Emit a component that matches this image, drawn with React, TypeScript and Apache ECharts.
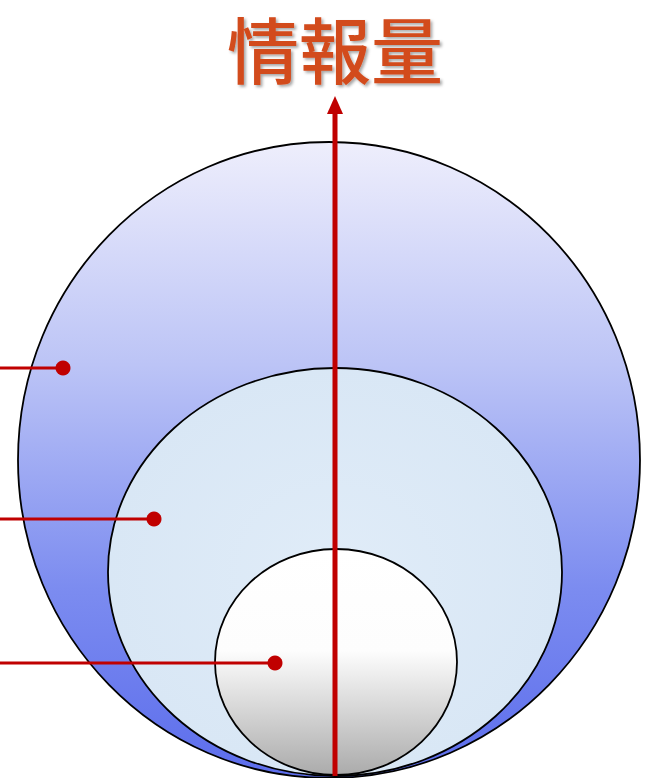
import React, { useEffect, useRef } from "react";
import * as echarts from "echarts";

const titleText = "情報量";
const layerNames = ["外層", "中層", "内層"];
const leaderLevels = [0, 1, 2];

export default function App() {
  const ref = useRef<HTMLDivElement>(null);
  useEffect(() => {
    document.body.style.margin = "0";
    const chart = echarts.init(ref.current!, null, { renderer: "svg" });
    const ellipses = [
      { cx: 329, cy: 460, rx: 311, ry: 318,
        fill: new echarts.graphic.LinearGradient(0, 0, 0, 1, [
          { offset: 0, color: "#eeeefc" },
          { offset: 0.35, color: "#bcc4f6" },
          { offset: 0.7, color: "#7c8cf0" },
          { offset: 1, color: "#5c6dec" },
        ]) },
      { cx: 335, cy: 572, rx: 227, ry: 204,
        fill: new echarts.graphic.RadialGradient(0.5, 0.5, 0.7, [
          { offset: 0, color: "#e0ecf8" },
          { offset: 1, color: "#d6e5f4" },
        ]) },
      { cx: 336, cy: 662, rx: 121, ry: 113,
        fill: new echarts.graphic.LinearGradient(0, 0, 0, 1, [
          { offset: 0, color: "#ffffff" },
          { offset: 0.45, color: "#fdfdfd" },
          { offset: 1, color: "#ababab" },
        ]) },
    ];
    const dots = [
      [63, 368],
      [154, 519],
      [275, 663],
    ];
    const graphics: any[] = [];
    ellipses.forEach((e, i) => {
      graphics.push({
        type: "ellipse",
        name: layerNames[i],
        shape: { cx: e.cx, cy: e.cy, rx: e.rx, ry: e.ry },
        style: { fill: e.fill, stroke: "#000", lineWidth: 1.8 },
        z: 1 + i,
      });
    });
    graphics.push({
      type: "line",
      shape: { x1: 335, y1: 776, x2: 335, y2: 112 },
      style: { stroke: "#c00000", lineWidth: 5 },
      z: 10,
    });
    graphics.push({
      type: "polygon",
      shape: { points: [[335, 96], [327, 114], [343, 114]] },
      style: { fill: "#c00000" },
      z: 10,
    });
    leaderLevels.forEach((i) => {
      const [x, y] = dots[i];
      graphics.push({
        type: "line",
        shape: { x1: 0, y1: y, x2: x, y2: y },
        style: { stroke: "#c00000", lineWidth: 3 },
        z: 11,
      });
      graphics.push({
        type: "circle",
        shape: { cx: x, cy: y, r: 7.5 },
        style: { fill: "#c00000" },
        z: 11,
      });
    });
    graphics.push({
      type: "text",
      x: 335,
      y: 46,
      style: {
        text: titleText,
        fill: "#d24b1d",
        font: '500 72px "Noto Sans CJK JP"',
        lineHeight: 72,
        align: "center",
        verticalAlign: "middle",
        textShadowColor: "rgba(0,0,0,0.35)",
        textShadowBlur: 3,
        textShadowOffsetX: 2,
        textShadowOffsetY: 2,
      },
      z: 12,
    });
    chart.setOption({ animation: false, graphic: graphics });
    return () => chart.dispose();
  }, []);
  return (
    <div
      ref={ref}
      style={{ position: "absolute", left: 0, top: 0, width: 646, height: 778 }}
    />
  );
}
